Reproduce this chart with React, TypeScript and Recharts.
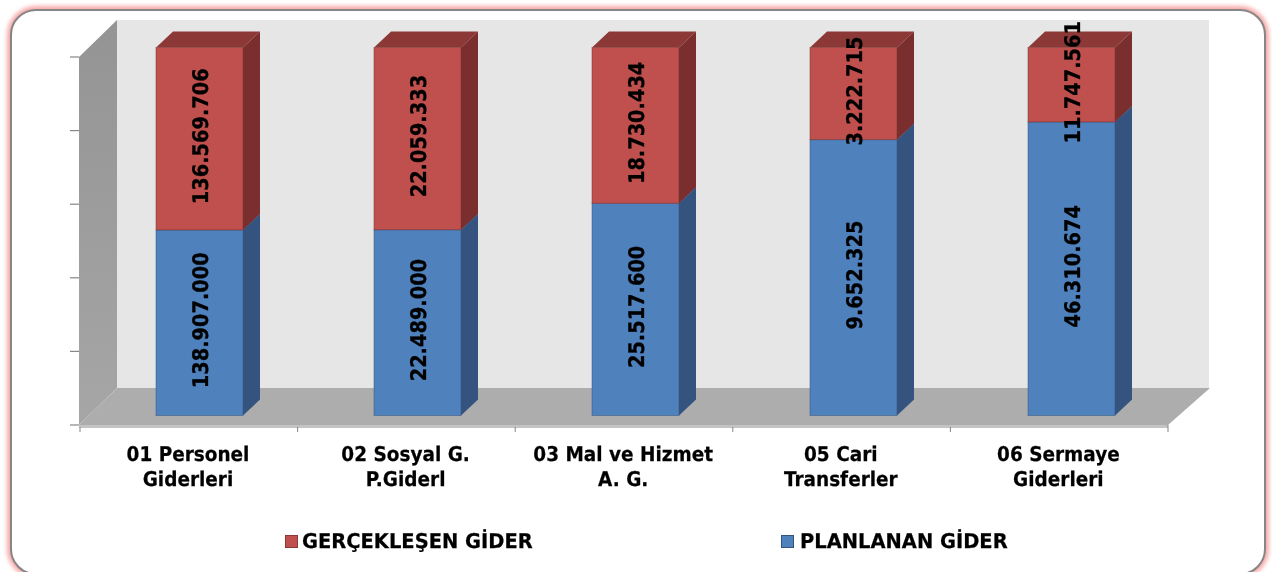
import React from "react";
import { BarChart, Bar, XAxis, YAxis, Legend, LabelList, Customized } from "recharts";

const categoryLines = [
  ["01 Personel", "Giderleri"],
  ["02 Sosyal G.", "P.Giderl"],
  ["03 Mal ve Hizmet", "A. G."],
  ["05 Cari", "Transferler"],
  ["06 Sermaye", "Giderleri"],
];
const planned = [138907000, 22489000, 25517600, 9652325, 46310674];
const realized = [136569706, 22059333, 18730434, 3222715, 11747561];
const yTicks = [0, 0.2, 0.4, 0.6, 0.8, 1];
const SERIES_PLANNED = "PLANLANAN GİDER";
const SERIES_REALIZED = "GERÇEKLEŞEN GİDER";

const rows = categoryLines.map((lines, i) => ({
  name: lines.join(" "),
  planned: planned[i],
  realized: realized[i],
}));

const FONT = "'DejaVu Sans', sans-serif";
const DX = 10;
const DY = -9.5;
const DEPTH_X = 17;
const DEPTH_Y = -16;
const AXIS_LEFT = 80;
const AXIS_BAND = 217.6;

const fmt = (v: number) => v.toLocaleString("tr-TR");

const makeShape = (front: string, side: string, top: string) => (props: any) => {
  const x = props.x + DX;
  const y = props.y + DY;
  const w = props.width;
  const h = props.height;
  return (
    <g>
      <polygon
        points={`${x},${y} ${x + DEPTH_X},${y + DEPTH_Y} ${x + w + DEPTH_X},${y + DEPTH_Y} ${x + w},${y}`}
        fill={top}
      />
      <polygon
        points={`${x + w},${y} ${x + w + DEPTH_X},${y + DEPTH_Y} ${x + w + DEPTH_X},${y + h + DEPTH_Y} ${x + w},${y + h}`}
        fill={side}
      />
      <rect x={x} y={y} width={w} height={h} fill={front} stroke={side} strokeOpacity={0.5} strokeWidth={1} />
    </g>
  );
};

const barLabel = (props: any) => {
  const cx = props.x + props.width / 2 + DX;
  const cy = props.y + props.height / 2 + DY - 2.5;
  return (
    <text
      transform={`translate(${cx + 8},${cy}) rotate(-90) scale(0.9,1)`}
      textAnchor="middle"
      textRendering="geometricPrecision"
      fontFamily={FONT}
      fontWeight={700}
      fontSize={21.5}
      stroke="#000"
      strokeWidth={0.3}
      fill="#000"
    >
      {fmt(props.value)}
    </text>
  );
};

const Walls = () => (
  <g>
    <defs>
      <linearGradient id="leftWall" x1="0" y1="0" x2="0" y2="1">
        <stop offset="0" stopColor="#949494" />
        <stop offset="1" stopColor="#a6a6a6" />
      </linearGradient>
    </defs>
    <rect x={117} y={20} width={1092} height={368} fill="#e6e6e6" />
    <polygon points="79,57 117,20 117,388 79,425" fill="url(#leftWall)" />
    <polygon points="79,425 117,388 1210,388 1168,425" fill="#adadad" />
    <polygon points="79,425 1168,425 1168,428 79,428" fill="#c4c4c4" />
  </g>
);

const YTick = (props: any) => (
  <line x1={70} y1={props.y} x2={79} y2={props.y} stroke="#868686" strokeWidth={1.2} />
);

const CategoryTick = (props: any) => {
  const { x, index } = props;
  const lines = categoryLines[index];
  const tx = AXIS_LEFT + index * AXIS_BAND;
  return (
    <g>
      <line x1={tx} y1={427} x2={tx} y2={432} stroke="#868686" />
      {index === categoryLines.length - 1 && (
        <line x1={tx + AXIS_BAND} y1={425} x2={tx + AXIS_BAND} y2={432} stroke="#868686" />
      )}
      {lines.map((line, i) => (
        <text
          key={line}
          transform={`translate(${x - index * 0.4 - 1},${460.5 + i * 25}) scale(0.91,1)`}
          textAnchor="middle"
          textRendering="geometricPrecision"
          fontFamily={FONT}
          fontWeight={700}
          fontSize={20.3}
          stroke="#000"
          strokeWidth={0.25}
          fill="#000"
        >
          {line}
        </text>
      ))}
    </g>
  );
};

const legendSwatchX = [285, 781];
const legendTextX = [302, 800];
const LegendContent = (props: any) => {
  const items = props.payload || [];
  return (
    <div style={{ position: "relative", height: 0 }}>
      {items.map((it: any, i: number) => (
        <div key={it.value}>
          <div
            style={{
              position: "absolute",
              left: legendSwatchX[i],
              top: 535,
              width: 11,
              height: 11,
              background: it.color,
              border: `1px solid ${i === 0 ? "#8c3836" : "#34547f"}`,
            }}
          />
          <div
            style={{
              position: "absolute",
              left: legendTextX[i],
              top: 527,
              fontFamily: FONT,
              fontWeight: 700,
              fontSize: 20.3,
              lineHeight: "28px",
              whiteSpace: "nowrap",
              color: "#000",
              textRendering: "geometricPrecision",
              WebkitTextStroke: "0.25px #000",
              transform: "scale(0.96,1)",
              transformOrigin: "left center",
            }}
          >
            {it.value}
          </div>
        </div>
      ))}
    </div>
  );
};

export default function App() {
  return (
    <div style={{ position: "absolute", left: 0, top: 0, width: 1272, height: 572, overflow: "hidden", background: "#fff" }}>
      <div
        style={{
          position: "absolute",
          left: 10,
          top: 9,
          width: 1252,
          height: 562,
          border: "2px solid #868686",
          borderRadius: 26,
          background: "#fff",
          boxShadow: "0 0 4px 3px #f7a8a8",
          boxSizing: "content-box",
        }}
      />
      <div style={{ position: "absolute", left: 0, top: 0, filter: "blur(0.4px)" }}>
        <BarChart
          width={1272}
          height={572}
          data={rows}
          stackOffset="expand"
          barSize={87}
          margin={{ top: 57, left: 79, right: 102, bottom: 0 }}
        >
          <Customized component={<Walls />} />
          <XAxis
            dataKey="name"
            height={147}
            interval={0}
            axisLine={false}
            tickLine={false}
            tick={<CategoryTick />}
          />
          <YAxis
            width={1}
            type="number"
            domain={[0, 1]}
            ticks={yTicks}
            tick={<YTick />}
            axisLine={false}
            tickLine={false}
          />
          <Legend
            verticalAlign="bottom"
            content={<LegendContent />}
            wrapperStyle={{ left: 0, top: 0, bottom: "auto", width: 0, height: 0 }}
          />
          <Bar
            dataKey="planned"
            name={SERIES_PLANNED}
            stackId="a"
            fill="#4f81bd"
            isAnimationActive={false}
            shape={makeShape("#4f81bd", "#34547f", "#34547f")}
          >
            <LabelList dataKey="planned" content={barLabel} />
          </Bar>
          <Bar
            dataKey="realized"
            name={SERIES_REALIZED}
            stackId="a"
            fill="#c0504d"
            isAnimationActive={false}
            shape={makeShape("#c0504d", "#7a2f2e", "#8c3836")}
          >
            <LabelList dataKey="realized" content={barLabel} />
          </Bar>
        </BarChart>
      </div>
    </div>
  );
}
